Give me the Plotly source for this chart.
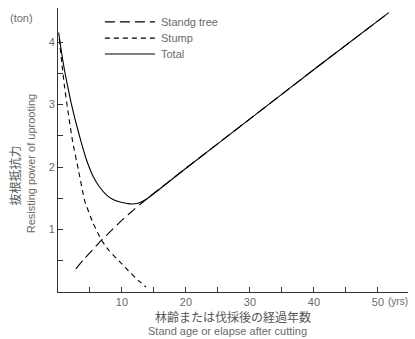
import plotly.graph_objects as go

# Uprooting resistance (ton) against stand age / years after cutting
stump_x = [0.2, 0.6, 1.0, 1.6, 2.3, 3.2, 4.2, 5.5, 6.8, 8.0, 9.5, 11.0, 12.5, 13.75]
stump_y = [4.05, 3.66, 3.30, 2.86, 2.40, 1.95, 1.45, 1.10, 0.83, 0.66, 0.50, 0.34, 0.19, 0.08]

stand_x = [2.8, 4.0, 5.0, 6.8, 8.0, 10.0, 12.0, 13.75, 20.0, 30.0, 40.0, 51.7]
stand_y = [0.37, 0.52, 0.63, 0.83, 0.95, 1.15, 1.33, 1.48, 1.98, 2.77, 3.56, 4.47]

total_x = [0.1, 0.6, 1.1, 2.0, 2.7, 3.7, 4.5, 5.5, 6.5, 7.6, 8.6, 9.7, 11.25, 12.5, 13.75,
           20.0, 30.0, 40.0, 51.7]
total_y = [4.15, 3.80, 3.50, 3.05, 2.75, 2.37, 2.10, 1.85, 1.68, 1.55, 1.48, 1.44, 1.41, 1.42, 1.48,
           1.98, 2.77, 3.56, 4.47]

x_ticks = [5, 10, 15, 20, 25, 30, 35, 40, 45, 50]
x_labels = ["", "10", "", "20", "", "30", "", "40", "", "50"]
y_ticks = [0.5, 1, 1.5, 2, 2.5, 3, 3.5, 4]
y_labels = ["", "1", "", "2", "", "3", "", "4"]

series_names = ["Standg tree", "Stump", "Total"]
series_dash = ["10px,5px", "5px,4px", "solid"]

LATIN = "Liberation Sans, Arial, sans-serif"
CJK = "Noto Sans CJK JP, sans-serif"
GREY = "#6a6a6a"

fig = go.Figure()
for xs, ys, name, dash in zip([stand_x, stump_x, total_x], [stand_y, stump_y, total_y],
                              series_names, series_dash):
    fig.add_trace(go.Scatter(x=xs, y=ys, mode="lines", name=name,
                             line=dict(color="black", width=1.1, dash=dash, shape="spline", smoothing=0.5)))

# hand-drawn style legend in the upper part of the plot area
legend_y = [0.951, 0.894, 0.838]
for name, dash, ly in zip(series_names, series_dash, legend_y):
    fig.add_shape(type="line", xref="paper", yref="paper", x0=0.134, x1=0.277, y0=ly, y1=ly,
                  line=dict(color="black", width=1.1, dash=dash))
    fig.add_annotation(text=name, xref="paper", yref="paper", x=0.289, y=ly, xanchor="left",
                       yanchor="middle", showarrow=False, font=dict(family=LATIN, size=11, color=GREY))


def note(text, x, y, font, angle=0, xref="paper", **kw):
    fig.add_annotation(text=text, xref=xref, yref="paper", x=x, y=y, textangle=angle,
                       xanchor=kw.pop("xanchor", "center"), yanchor="middle",
                       showarrow=False, font=font, **kw)


# unit labels
note("(ton)", -0.103, 0.965, dict(family=LATIN, size=11, color=GREY))
note("(yrs)", 50, -0.035, dict(family=LATIN, size=10, color=GREY), xref="x", xanchor="left", xshift=8)

# axis titles (Japanese + English)
note("抜根抵抗力", -0.123, 0.41, dict(family=CJK, size=12, color="#555"), angle=-90)
note("Resisting power of uprooting", -0.077, 0.45, dict(family=LATIN, size=11, color=GREY), angle=-90)
note("林齢または伐採後の経過年数", 0.5, -0.088, dict(family=CJK, size=12, color="#555"))
note("Stand age or elapse after cutting", 0.483, -0.137, dict(family=LATIN, size=11, color=GREY))

fig.update_layout(
    width=415, height=339,
    margin=dict(l=58, r=7, t=8, b=47),
    paper_bgcolor="white", plot_bgcolor="white",
    showlegend=False,
    xaxis=dict(range=[0, 54.7], tickmode="array", tickvals=x_ticks, ticktext=x_labels,
               ticks="inside", ticklen=5, tickcolor="#333", tickwidth=1,
               showline=True, linecolor="#333", linewidth=1, showgrid=False, zeroline=False,
               tickfont=dict(family=LATIN, size=11, color=GREY)),
    yaxis=dict(range=[0, 4.544], tickmode="array", tickvals=y_ticks, ticktext=y_labels,
               ticks="inside", ticklen=5, tickcolor="#333", tickwidth=1,
               showline=True, linecolor="#333", linewidth=1, showgrid=False, zeroline=False,
               tickfont=dict(family=LATIN, size=11, color=GREY)),
)

fig.write_html("out.html")
